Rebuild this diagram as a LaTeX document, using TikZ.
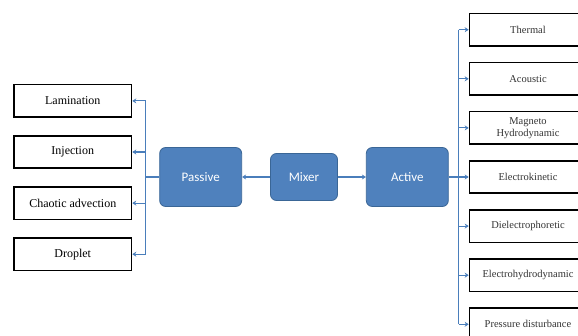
\documentclass[tikz,border=0pt]{standalone}
\usepackage{fontspec}
\setmainfont{Liberation Serif}
\newfontfamily\calibrifont{Carlito}
\usetikzlibrary{arrows.meta, positioning, calc}
\definecolor{mixblue}{HTML}{4F81BD}
\definecolor{mixedge}{HTML}{3A6696}
\definecolor{linkblue}{HTML}{4A7EBB}
\begin{document}
\begin{tikzpicture}[
        x=1pt, y=1pt,
        blockbox/.style={rectangle, draw=mixedge, line width=0.8pt, fill=mixblue, rounded corners=6pt, text=white, font=\calibrifont\fontsize{13}{15}\selectfont},
        leftbox/.style={rectangle, draw=black, line width=1.6pt, minimum width=117.5pt, minimum height=32.5pt, align=center, font=\rmfamily\fontsize{12}{14}\selectfont},
        rightbox/.style={rectangle, draw=black, line width=1.6pt, minimum width=117pt, minimum height=32.5pt, align=center, text=black!80, font=\rmfamily\fontsize{10.5}{12}\selectfont},
        link/.style={draw=linkblue, line width=1.1pt},
        arr/.style={link, -{Stealth[length=4pt, width=5pt]}}
    ]
        \useasboundingbox (0,0) rectangle (578,335);
        \clip (0,0) rectangle (578,335);

        % Centre blocks
        \node[blockbox, minimum width=67pt, minimum height=47pt] (mixer) at (304,158) {Mixer};
        \node[blockbox, minimum width=82pt, minimum height=59pt, left=28pt of mixer] (passive) {Passive};
        \node[blockbox, minimum width=82pt, minimum height=59pt, right=28pt of mixer] (active) {Active};

        % Passive mixers
        \node[leftbox, left=27pt of passive, yshift=25pt] (inj) {Injection};
        \node[leftbox, above=17pt of inj] (lam) {Lamination};
        \node[leftbox, below=17pt of inj] (chaos) {Chaotic advection};
        \node[leftbox, below=17pt of chaos] (drop) {Droplet};

        % Active mixers
        \node[rightbox, right=20pt of active] (ekin) {Electrokinetic};
        \node[rightbox, above=15pt of ekin] (magneto) {Magneto\\Hydrodynamic};
        \node[rightbox, above=15pt of magneto] (acoustic) {Acoustic};
        \node[rightbox, above=15pt of acoustic] (thermal) {Thermal};
        \node[rightbox, below=15pt of ekin] (dielec) {Dielectrophoretic};
        \node[rightbox, below=15pt of dielec] (ehd) {Electrohydrodynamic};
        \node[rightbox, below=15pt of ehd] (pressure) {Pressure disturbance};

        % Connections
        \draw[arr] (mixer) -- (passive);
        \draw[arr] (mixer) -- (active);

        \coordinate (lspine) at ($(passive.west)!0.5!(passive.west -| inj.east)$);
        \draw[link] (passive.west) -- (lspine);
        \draw[link] (lspine |- lam) -- (lspine |- drop);
        \foreach \n in {lam, inj, chaos, drop}
            \draw[arr] (lspine |- \n) -- (\n.east);

        \coordinate (rspine) at ($(active.east)!0.5!(ekin.west)$);
        \draw[link] (active.east) -- (rspine);
        \draw[link] (rspine |- thermal) -- (rspine |- pressure);
        \foreach \n in {thermal, acoustic, magneto, ekin, dielec, ehd, pressure}
            \draw[arr] (rspine |- \n) -- (\n.west);
    \end{tikzpicture}
\end{document}
